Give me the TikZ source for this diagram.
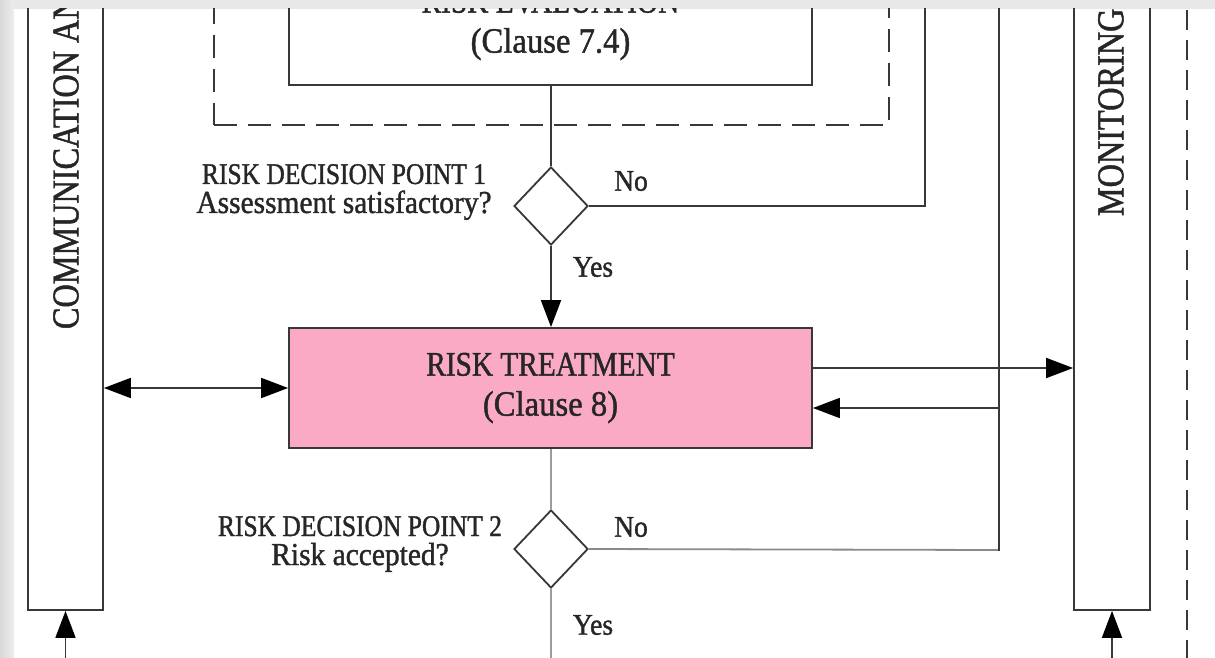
\documentclass[tikz,border=0pt]{standalone}
\usepackage{fontspec}
\setmainfont{Liberation Serif}
\newfontfamily\capsfam{Liberation Serif}[FakeStretch=0.85,FakeBold=1.2]
\newfontfamily\lowfam{Liberation Serif}[FakeStretch=0.92,FakeBold=1.2]
\usetikzlibrary{arrows.meta,shapes.geometric}

\definecolor{ink}{HTML}{262626}
\definecolor{lineink}{HTML}{383838}
\definecolor{faintink}{HTML}{9C9C9C}
\definecolor{midink}{HTML}{8A8A8A}
\definecolor{treatpink}{RGB}{251,170,198}

% font sizes for the different kinds of text
\newcommand\boxcaps{\capsfam\fontsize{34.5}{40}\selectfont}
\newcommand\boxlow{\lowfam\fontsize{35.5}{40}\selectfont}
\newcommand\labcaps{\capsfam\fontsize{30}{29}\selectfont}
\newcommand\lablow{\lowfam\fontsize{32}{29}\selectfont}
\newcommand\sidecaps{\capsfam\fontsize{38}{40}\selectfont}
\newcommand\yesnofont{\lowfam\fontsize{30}{30}\selectfont}

\begin{document}
\begin{tikzpicture}[x=1pt,y=-1pt,line width=1.8pt,
  every node/.style={text=ink},
  box/.style={draw=lineink, rectangle, inner sep=0pt, align=center, font=\boxcaps},
  sidebox/.style={draw=lineink, rectangle, inner sep=0pt},
  sidetext/.style={font=\sidecaps, inner sep=0pt, rotate=90, anchor=west},
  frame/.style={draw=lineink, rectangle, dash pattern=on 23pt off 11pt},
  decision/.style={draw=lineink, diamond, minimum width=74pt, minimum height=78pt, inner sep=0pt},
  lab/.style={font=\labcaps, align=center, inner sep=0pt},
  yesno/.style={font=\yesnofont, inner sep=0pt},
  flow/.style={draw=lineink},
  faint/.style={draw=faintink},
  midflow/.style={draw=midink},
  tip/.tip={Triangle[length=27pt,width=20pt,black]},
  arr/.style={flow, -tip},
  biarr/.style={flow, tip-tip},
  boundary/.style={draw=lineink, dash pattern=on 20pt off 10pt}
]
\useasboundingbox (0,0) rectangle (1215,658);

% page surround
\shade[left color=black!15, right color=black!7] (0,0) rectangle (14,658);
\shade[left color=black!9, middle color=black!2, right color=black!9] (14,0) rectangle (1215,9);
\fill[white] (14,9) rectangle (1215,658);

\begin{scope}
\clip (14,9) rectangle (1215,658);

% side columns
\node[sidebox, minimum width=75pt, minimum height=720pt] (comm) at (65.5,250) {};
\node[sidetext] (commtext) at (66,330) {COMMUNICATION AND CONSULTATION};
\node[sidebox, minimum width=76pt, minimum height=720pt] (mon) at (1112,250) {};
\node[sidetext] (montext) at (1111,217) {MONITORING AND REVIEW};

% assessment frame and evaluation step
\node[frame, minimum width=675pt, minimum height=220pt] (assess) at (551.5,15) {};
\node[box, minimum width=523pt, minimum height=120pt] (eval) at (550.5,25)
  {RISK EVALUATION\\{\boxlow (Clause 7.4)}};

% decision point 1
\node[decision] (d1) at (551,206) {};
\node[lab] (d1lab) at (344,192) {RISK DECISION POINT 1\\{\lablow Assessment satisfactory?}};
\node[yesno] (d1no) at (631,181) {No};
\node[yesno] (d1yes) at (593,267) {Yes};

% treatment step
\node[box, fill=treatpink, minimum width=523pt, minimum height=120pt] (treat) at (550.5,388)
  {RISK TREATMENT\\{\boxlow (Clause 8)}};

% decision point 2
\node[decision] (d2) at (551,549) {};
\node[lab] (d2lab) at (360,544) {RISK DECISION POINT 2\\{\lablow Risk accepted?}};
\node[yesno] (d2no) at (631,527) {No};
\node[yesno] (d2yes) at (593,625) {Yes};

% loop and exit points
\coordinate (loop1) at (925,206);
\coordinate (loop1top) at (925,-20);
\coordinate (loop2) at (999,550);
\coordinate (loop2top) at (999,-20);
\coordinate (d2out) at (551,700);
\coordinate (commin) at (65.5,700);
\coordinate (monin) at (1112,700);
\coordinate (edgetop) at (1187,-20);
\coordinate (edgebottom) at (1187,700);

% connectors
\draw[flow] (d1.north |- eval.south) -- (d1.north);
\draw[arr] (d1.south) -- (d1.south |- treat.north);
\draw[flow] (d1.east) -- (loop1) -- (loop1top);
\draw[biarr] (comm.east |- treat.west) -- (treat.west);
\draw[arr] ([yshift=20pt]treat.east) -- ([yshift=20pt]treat.east -| mon.west);
\draw[arr] ([yshift=-20pt]treat.east -| loop2) -- ([yshift=-20pt]treat.east);
\draw[faint] (d2.north |- treat.south) -- (d2.north);
\draw[midflow] (d2.east) -- (loop2);
\draw[flow, line cap=rect] (loop2) -- (loop2top);
\draw[faint] (d2.south) -- (d2out);
\draw[arr] (commin) -- (comm.south);
\draw[arr] (monin) -- (mon.south);
\draw[boundary] (edgetop) -- (edgebottom);
\end{scope}
\end{tikzpicture}
\end{document}
